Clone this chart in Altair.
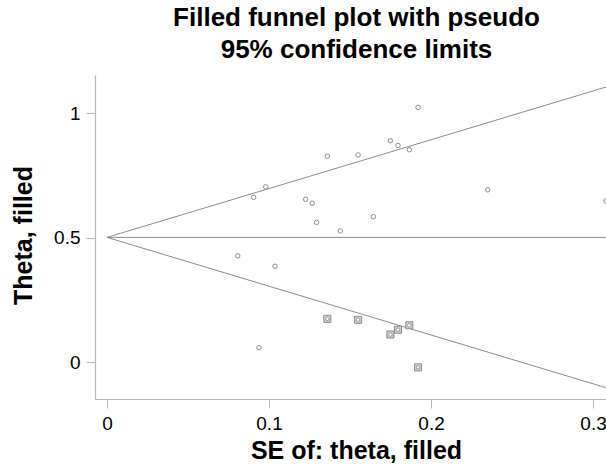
import altair as alt
import pandas as pd

# Observed studies (SE, theta)
obs_se = [0.0807, 0.0905, 0.0938, 0.0980, 0.1037, 0.1226, 0.1267, 0.1293, 0.1360,
          0.1440, 0.1550, 0.1644, 0.1749, 0.1796, 0.1866, 0.1920, 0.2350, 0.3080]
obs_theta = [0.428, 0.663, 0.059, 0.705, 0.386, 0.655, 0.639, 0.562, 0.828,
             0.528, 0.833, 0.585, 0.890, 0.871, 0.854, 1.024, 0.693, 0.648]

# Filled (imputed) studies
fill_se = [0.1360, 0.1550, 0.1749, 0.1796, 0.1866, 0.1920]
fill_theta = [0.175, 0.171, 0.112, 0.131, 0.149, -0.020]

theta_hat = 0.502
line_se = [0.0, 0.32]

x_ticks = [0, 0.1, 0.2, 0.3]
y_ticks = [0, 0.5, 1]

obs = pd.DataFrame({"se": obs_se, "theta": obs_theta})
filled = pd.DataFrame({"se": fill_se, "theta": fill_theta})
lines = pd.DataFrame({
    "se": line_se * 3,
    "theta": [theta_hat + 1.96 * s for s in line_se]
           + [theta_hat - 1.96 * s for s in line_se]
           + [theta_hat for s in line_se],
    "grp": ["upper"] * 2 + ["lower"] * 2 + ["mid"] * 2,
})

GRAY = "#8c8c8c"
FONT = "Liberation Sans"

xscale = alt.Scale(domain=[-0.0074, 0.3080], nice=False, zero=False)
yscale = alt.Scale(domain=[-0.147, 1.154], nice=False, zero=False)

xenc = alt.X("se:Q", scale=xscale,
             axis=alt.Axis(values=x_ticks, format="~g", title="SE of: theta, filled",
                           titleX=261, titleY=51, titleBaseline="middle",
                           titleAlign="center"))
yenc = alt.Y("theta:Q", scale=yscale,
             axis=alt.Axis(values=y_ticks, format="~g", title="Theta, filled",
                           titleX=-72, titleY=160, titleAngle=-90,
                           titleBaseline="middle", titleAlign="center"))

line_layer = alt.Chart(lines).mark_line(color=GRAY, strokeWidth=1, clip=True).encode(
    x=xenc, y=yenc, detail="grp:N")

obs_layer = alt.Chart(obs).mark_point(shape="circle", filled=False, color=GRAY,
                                      size=20, strokeWidth=1, opacity=1, clip=True).encode(
    x="se:Q", y="theta:Q")

fill_sq = alt.Chart(filled).mark_point(shape="square", filled=True, fill="#cfcfcf",
                                       stroke=GRAY, strokeWidth=1, size=50, opacity=1,
                                       clip=True).encode(x="se:Q", y="theta:Q")
fill_c = alt.Chart(filled).mark_point(shape="circle", filled=True, fill="white",
                                      stroke=GRAY, strokeWidth=0.8, size=12, opacity=1,
                                      clip=True).encode(x="se:Q", y="theta:Q")

chart = alt.layer(line_layer, obs_layer, fill_sq, fill_c).properties(
    width=511, height=324,
    autosize=alt.AutoSizeParams(type="none"),
    padding={"left": 95, "top": 75, "right": 0, "bottom": 69},
    title=alt.TitleParams(text=["Filled funnel plot with pseudo", "95% confidence limits"],
                          fontSize=26, font=FONT, fontWeight="bold", color="black",
                          anchor="middle", lineHeight=32, offset=12, dx=6),
).configure_view(stroke=None).configure_axis(
    grid=False, domainColor="#b8b8b8", tickColor="#b8b8b8", domainWidth=1.2,
    tickWidth=1, tickSize=9, labelFont=FONT, labelFontSize=19, labelColor="black",
    titleFont=FONT, titleFontSize=25, titleFontWeight="bold", titleColor="black",
    labelPadding=6,
).configure_axisX(labelFlush=False, labelBound=False)

chart.save("out.html", embed_options={"renderer": "svg", "actions": False})
